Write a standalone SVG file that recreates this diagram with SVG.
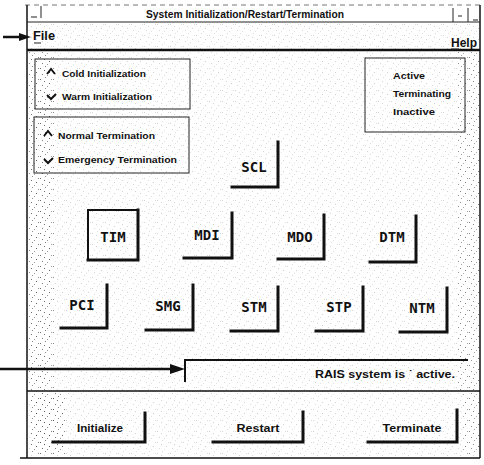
<svg xmlns="http://www.w3.org/2000/svg" width="484" height="465" viewBox="0 0 484 465">
  <defs>
    <style>
      .frame { fill: none; stroke: #111; stroke-width: 1.5; }
      .thin { fill: none; stroke: #222; stroke-width: 1; }
      .lbl { font-family: "Liberation Sans", Arial, sans-serif; font-weight: bold; fill: #111; }
      .mono { font-family: "DejaVu Sans Mono", "Liberation Mono", monospace; font-size: 14px; font-weight: bold; fill: #111; text-anchor: middle; }
      .shadow { fill: none; stroke: #111; stroke-width: 3; stroke-linecap: square; }
      .ptr { stroke: #111; stroke-width: 2.5; fill: none; }
      .tip { fill: #111; stroke: none; }
    </style>
    <pattern id="grain" width="13" height="11" patternUnits="userSpaceOnUse">
      <rect x="1" y="2" width="1" height="1" fill="#555"/>
      <rect x="6" y="0" width="1" height="1" fill="#777"/>
      <rect x="10" y="6" width="1" height="1" fill="#444"/>
      <rect x="3" y="8" width="1" height="1" fill="#666"/>
      <rect x="8" y="9" width="1" height="1" fill="#888"/>
      <rect x="5" y="4" width="1" height="1" fill="#555"/>
      <rect x="12" y="2" width="1" height="1" fill="#777"/>
    </pattern>
  </defs>

  <rect width="484" height="465" fill="#fff"/>

  <!-- speckled background areas -->
  <g id="texture">
    <rect x="28" y="23" width="451" height="434" fill="url(#grain)" opacity="0.25"/>
    <rect x="28" y="52" width="26" height="338" fill="url(#grain)" opacity="0.6"/>
    <rect x="31" y="55" width="20" height="330" fill="url(#grain)" opacity="0.5"/>
    <rect x="30" y="393" width="36" height="62" fill="url(#grain)" opacity="0.8"/>
    <rect x="33" y="397" width="22" height="55" fill="url(#grain)" opacity="0.8"/>
    <rect x="458" y="52" width="21" height="338" fill="url(#grain)" opacity="0.6"/>
    <rect x="462" y="393" width="17" height="62" fill="url(#grain)" opacity="0.6"/>
  </g>

  <!-- window frame -->
  <g id="window">
    <line x1="25" y1="5" x2="480" y2="5" stroke="#777" stroke-width="1" stroke-dasharray="5 4"/>
    <line x1="27" y1="5" x2="27" y2="458" class="frame"/>
    <line x1="480" y1="5" x2="480" y2="458" class="frame"/>
    <line x1="27" y1="22" x2="480" y2="22" class="thin"/>
    <line x1="27" y1="50" x2="480" y2="50" stroke="#111" stroke-width="2.5"/>
    <line x1="27" y1="391" x2="480" y2="391" stroke="#111" stroke-width="1.5"/>
    <line x1="20" y1="458" x2="480" y2="458" stroke="#111" stroke-width="1.5"/>
    <!-- window controls -->
    <line x1="41" y1="6" x2="41" y2="18" class="thin"/>
    <line x1="31" y1="17" x2="37" y2="17" class="thin"/>
    <line x1="453" y1="8" x2="453" y2="22" class="thin"/>
    <line x1="468" y1="8" x2="468" y2="22" class="thin"/>
    <line x1="458" y1="16" x2="462" y2="16" class="thin"/>
    <line x1="473" y1="20" x2="478" y2="20" class="thin"/>
    <text x="245" y="18" class="lbl" font-size="10" text-anchor="middle" textLength="198" lengthAdjust="spacingAndGlyphs">System Initialization/Restart/Termination</text>
  </g>

  <!-- menu bar -->
  <g id="menu">
    <text x="33" y="40" class="lbl" font-size="12" textLength="22" lengthAdjust="spacingAndGlyphs">File</text>
    <line x1="34" y1="43" x2="41" y2="43" class="thin"/>
    <text x="451" y="47" class="lbl" font-size="12.5" textLength="26" lengthAdjust="spacingAndGlyphs">Help</text>
    <line x1="451" y1="49" x2="459" y2="49" class="thin"/>
  </g>

  <!-- initialization options -->
  <g id="init-options">
    <rect x="35" y="59" width="155" height="50" class="thin" stroke-width="1.2"/>
    <polyline points="47,74 51,69 55,74" fill="none" stroke="#111" stroke-width="2"/>
    <text x="62" y="77" class="lbl" font-size="9" textLength="84" lengthAdjust="spacingAndGlyphs">Cold Initialization</text>
    <polyline points="47,95 51,99 56,94" fill="none" stroke="#111" stroke-width="2"/>
    <text x="62" y="100" class="lbl" font-size="9" textLength="90" lengthAdjust="spacingAndGlyphs">Warm Initialization</text>
  </g>

  <!-- termination options -->
  <g id="term-options">
    <rect x="34" y="117" width="155" height="56" class="thin" stroke-width="1.2"/>
    <polyline points="44,136 48,131 52,136" fill="none" stroke="#111" stroke-width="2"/>
    <text x="58" y="139" class="lbl" font-size="9" textLength="97" lengthAdjust="spacingAndGlyphs">Normal Termination</text>
    <polyline points="44,159 48,163 53,158" fill="none" stroke="#111" stroke-width="2"/>
    <text x="58" y="163" class="lbl" font-size="9" textLength="119" lengthAdjust="spacingAndGlyphs">Emergency Termination</text>
  </g>

  <!-- state legend -->
  <g id="state-legend">
    <rect x="365" y="58" width="100" height="74" class="thin" stroke-width="1.2"/>
    <text x="393" y="79" class="lbl" font-size="9.5" textLength="32" lengthAdjust="spacingAndGlyphs">Active</text>
    <text x="393" y="97" class="lbl" font-size="9.5" textLength="58" lengthAdjust="spacingAndGlyphs">Terminating</text>
    <text x="393" y="115" class="lbl" font-size="9.5" textLength="42" lengthAdjust="spacingAndGlyphs">Inactive</text>
  </g>

  <!-- process buttons -->
  <g id="btn-SCL">
    <polyline points="278,142 278,187 232,187" class="shadow"/>
    <text x="254" y="172" class="mono">SCL</text>
  </g>
  <g id="btn-TIM">
    <rect x="88" y="210" width="50" height="50" fill="none" stroke="#111" stroke-width="2"/>
    <polyline points="138,210 138,260 88,260" class="shadow" stroke-width="3.5"/>
    <text x="113" y="242" class="mono">TIM</text>
  </g>
  <g id="btn-MDI">
    <polyline points="232,213 232,258 184,258" class="shadow"/>
    <text x="207" y="240" class="mono">MDI</text>
  </g>
  <g id="btn-MDO">
    <polyline points="324,215 324,259 278,259" class="shadow"/>
    <text x="300" y="242" class="mono">MDO</text>
  </g>
  <g id="btn-DTM">
    <polyline points="416,216 416,262 370,262" class="shadow"/>
    <text x="392" y="242" class="mono">DTM</text>
  </g>
  <g id="btn-PCI">
    <polyline points="107,285 107,328 61,328" class="shadow"/>
    <text x="82" y="310" class="mono">PCI</text>
  </g>
  <g id="btn-SMG">
    <polyline points="193,285 193,330 146,330" class="shadow"/>
    <text x="168" y="311" class="mono">SMG</text>
  </g>
  <g id="btn-STM">
    <polyline points="278,287 278,331 231,331" class="shadow"/>
    <text x="254" y="312" class="mono">STM</text>
  </g>
  <g id="btn-STP">
    <polyline points="363,287 363,331 316,331" class="shadow"/>
    <text x="339" y="312" class="mono">STP</text>
  </g>
  <g id="btn-NTM">
    <polyline points="447,288 447,332 400,332" class="shadow"/>
    <text x="422" y="313" class="mono">NTM</text>
  </g>

  <!-- status message field -->
  <g id="status-field">
    <polyline points="185,382 185,360 468,360" fill="none" stroke="#111" stroke-width="2"/>
    <text x="455" y="378" class="lbl" font-size="11" text-anchor="end" textLength="140" lengthAdjust="spacingAndGlyphs">RAIS system is ˙ active.</text>
  </g>

  <!-- action buttons -->
  <g id="btn-initialize">
    <polyline points="145,413 145,442 53,442" class="shadow"/>
    <text x="100" y="432" class="lbl" font-size="11" text-anchor="middle" textLength="46" lengthAdjust="spacingAndGlyphs">Initialize</text>
  </g>
  <g id="btn-restart">
    <polyline points="303,412 303,442 213,442" class="shadow"/>
    <text x="258" y="432" class="lbl" font-size="11" text-anchor="middle" textLength="43" lengthAdjust="spacingAndGlyphs">Restart</text>
  </g>
  <g id="btn-terminate">
    <polyline points="457,410 457,442 368,442" class="shadow"/>
    <text x="412" y="432" class="lbl" font-size="11" text-anchor="middle" textLength="59" lengthAdjust="spacingAndGlyphs">Terminate</text>
  </g>

  <!-- pointer arrows: shaft plus filled tip -->
  <g id="connectors">
    <line x1="3" y1="37" x2="22" y2="37" class="ptr"/>
    <path d="M19,33 L31,37 L19,41 Z" class="tip"/>
    <line x1="0" y1="369" x2="172" y2="369" class="ptr" stroke-width="3"/>
    <path d="M170,364 L185,369 L170,374 Z" class="tip"/>
  </g>
</svg>
